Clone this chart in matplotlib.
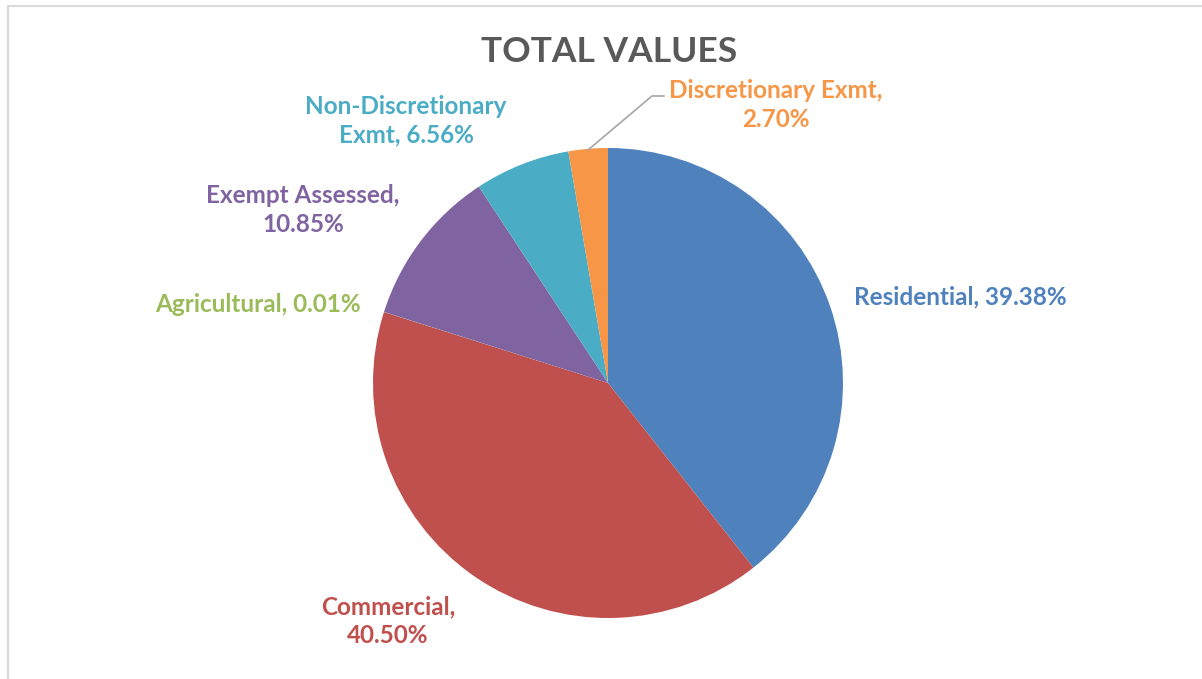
import matplotlib.pyplot as plt
from matplotlib.lines import Line2D

# data
categories = ['Residential', 'Commercial', 'Agricultural', 'Exempt Assessed',
              'Non-Discretionary Exmt', 'Discretionary Exmt']
shares = [39.38, 40.50, 0.01, 10.85, 6.56, 2.70]
colors = ['#4F81BD', '#C0504D', '#9BBB59', '#8064A2', '#4BACC6', '#F79646']

W, H = 1202, 679
plt.rcParams['font.family'] = ['Lato', 'DejaVu Sans']


def px(x, y):
    # pixel coords (top-left origin) -> figure fraction
    return x / W, 1 - y / H


fig = plt.figure(figsize=(W / 100, H / 100), dpi=100)

# pie, centre ~ (608, 383), radius ~ 235 px
cx, cy, r = 608, 383, 235
ax = fig.add_axes([(cx - r) / W, 1 - (cy + r) / H, 2 * r / W, 2 * r / H])
ax.pie(shares, colors=colors, startangle=90, counterclock=False, radius=1,
       wedgeprops={'linewidth': 0})
ax.set_xlim(-1, 1)
ax.set_ylim(-1, 1)
ax.set_aspect('equal')
ax.axis('off')

# frame (top and left edges only visible)
fig.add_artist(Line2D([8 / W, 8 / W], [0, 1 - 6 / H], transform=fig.transFigure,
                      color='#D9D9D9', lw=1.5))
fig.add_artist(Line2D([8 / W, 1], [1 - 6 / H, 1 - 6 / H], transform=fig.transFigure,
                      color='#D9D9D9', lw=1.5))

fig.text(*px(609, 52), 'TOTAL VALUES', ha='center', va='center',
         fontsize=25.5, fontweight='bold', color='#595959')

# data labels
labels = [
    ('Residential, 39.38%', 960, 297, colors[0]),
    ('Commercial,\n40.50%', 388, 621, colors[1]),
    ('Agricultural, 0.01%', 258, 304, colors[2]),
    ('Exempt Assessed,\n10.85%', 303, 210, colors[3]),
    ('Non-Discretionary\nExmt, 6.56%', 406, 121, colors[4]),
    ('Discretionary Exmt,\n2.70%', 776, 105, colors[5]),
]
for text, x, y, c in labels:
    fig.text(*px(x, y), text, ha='center', va='center', fontsize=17.5,
             fontweight='bold', color=c, linespacing=1.3)

# leader line for the small orange slice
x0, y0 = px(588, 150)
x1, y1 = px(652, 96)
x2, y2 = px(664, 96)
fig.add_artist(Line2D([x0, x1, x2], [y0, y1, y2], transform=fig.transFigure,
                      color='#A6A6A6', lw=1.2))

fig.savefig('out.png', dpi=100)
